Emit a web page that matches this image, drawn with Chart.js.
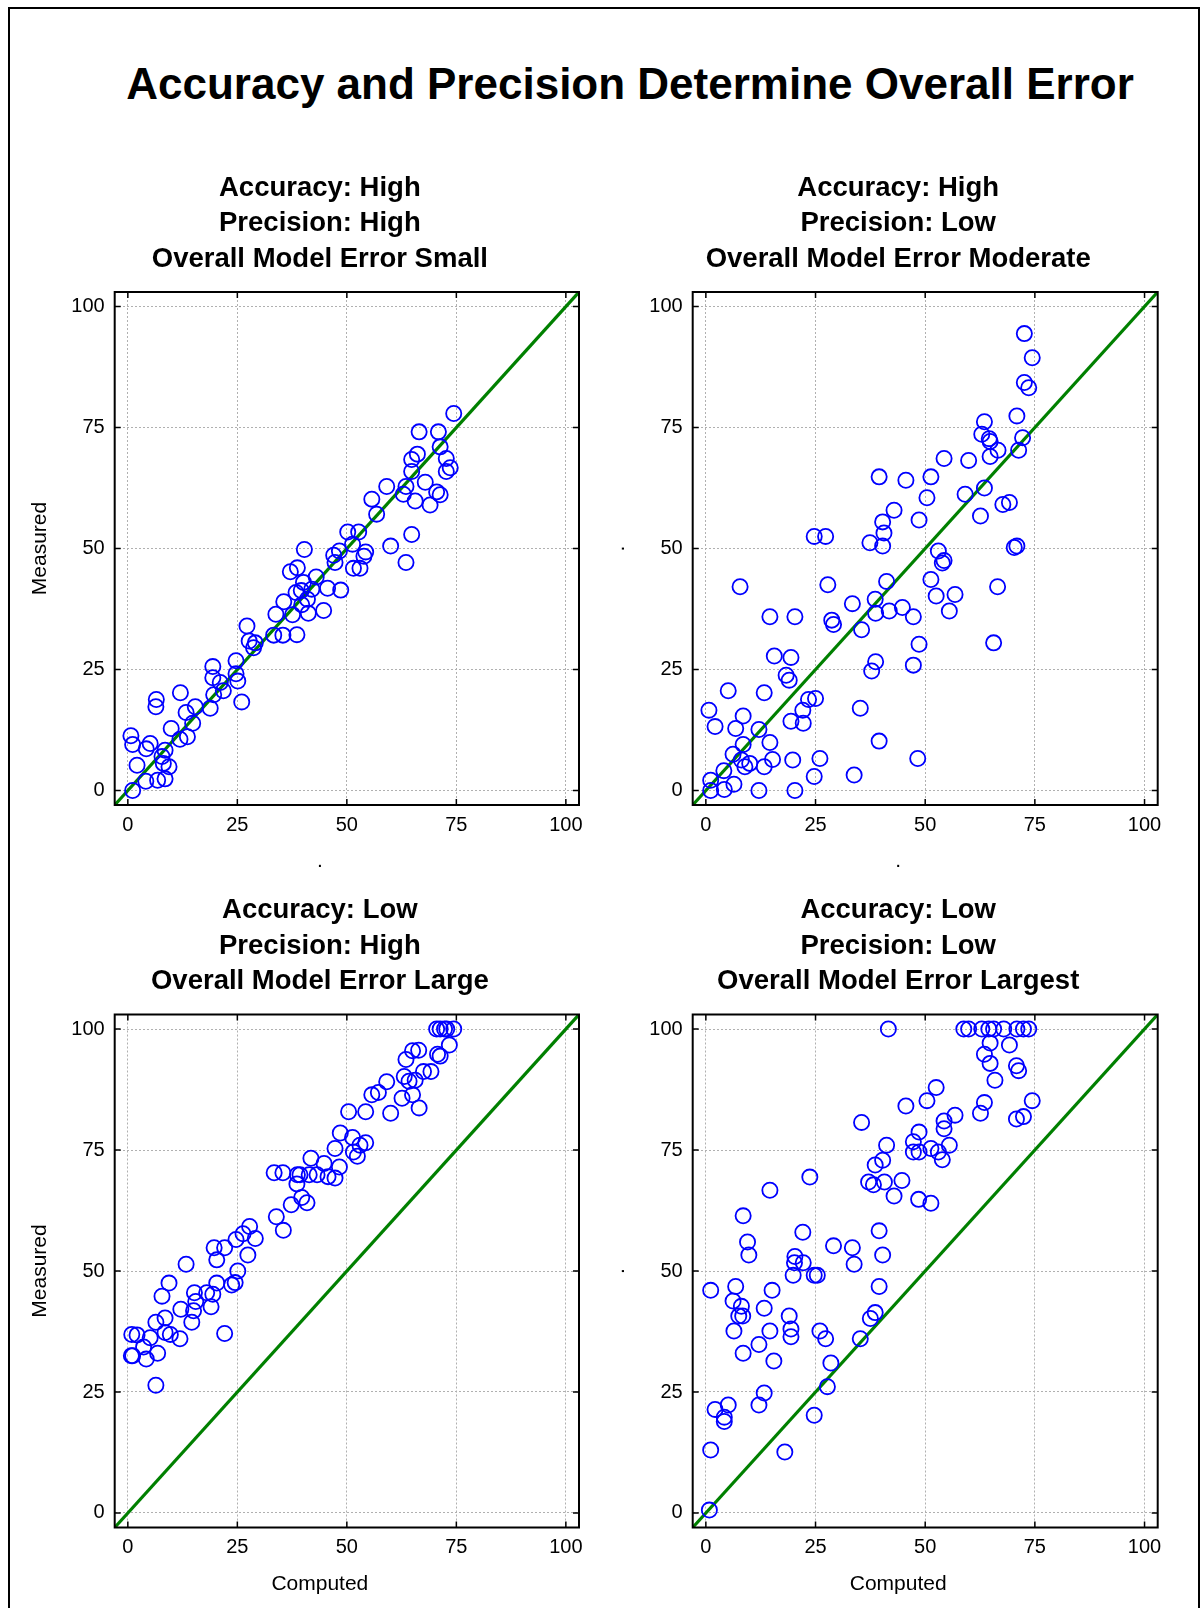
<!DOCTYPE html>
<html>
<head>
<meta charset="utf-8">
<title>Accuracy and Precision Determine Overall Error</title>
<script src="https://cdn.jsdelivr.net/npm/chart.js@4.4.1/dist/chart.umd.min.js"></script>
<style>
  html, body { margin: 0; padding: 0; background: #fff; }
  body { width: 1202px; height: 1608px; position: relative; overflow: hidden; font-family: "Liberation Sans", Arial, sans-serif; }
  #frame { position: absolute; left: 8px; top: 7px; width: 1192px; height: 1660px; border: 2px solid #000; box-sizing: border-box; }
  #main-title { position: absolute; left: 0; top: 62px; width: 1260px; text-align: center; font-size: 44px; font-weight: bold; line-height: 44px; color: #000; }
  canvas { position: absolute; }
</style>
</head>
<body>
<div id="frame"></div>
<div id="main-title">Accuracy and Precision Determine Overall Error</div>
<canvas id="c1" width="579" height="729" style="left:20px;top:150px"></canvas>
<canvas id="c2" width="580" height="729" style="left:598px;top:150px"></canvas>
<canvas id="c3" width="579" height="730" style="left:20px;top:872px"></canvas>
<canvas id="c4" width="580" height="730" style="left:598px;top:872px"></canvas>
<script>
// Axis setup (both axes share the same range and ticks)
const axisMin = -3;
const axisMax = 103;
const tickValues = [0, 25, 50, 75, 100];
const identityLine = [axisMin, axisMax];

// Panel titles
const titleSmall = ['Accuracy: High', 'Precision: High', 'Overall Model Error Small'];
const titleModerate = ['Accuracy: High', 'Precision: Low', 'Overall Model Error Moderate'];
const titleLarge = ['Accuracy: Low', 'Precision: High', 'Overall Model Error Large'];
const titleLargest = ['Accuracy: Low', 'Precision: Low', 'Overall Model Error Largest'];

// High accuracy, high precision
const smallX = [1.1, 4.1, 6.8, 8.5, 2.1, 8.1, 9.4, 8.5, 7.8, 0.7, 1.1, 5.1, 4.2, 9.9, 11.9, 13.6, 6.5, 6.4, 12.0, 13.3,
  14.8, 15.4, 18.8, 19.6, 19.4, 19.4, 21.8, 21.1, 24.7, 24.7, 25.1, 26.0, 27.2, 27.7, 28.7, 29.1, 33.3, 35.4, 38.6, 33.8,
  35.6, 37.6, 37.1, 38.7, 38.4, 39.6, 39.7, 40.3, 40.1, 41.2, 41.0, 42.0, 43.0, 44.7, 45.6, 48.6, 47.0, 47.3, 48.3, 50.2,
  51.3, 52.7, 51.5, 53.0, 54.3, 53.9, 55.7, 56.8, 59.1, 60.0, 64.8, 63.5, 62.9, 63.5, 65.6, 67.9, 69.0, 70.5, 71.3, 64.8,
  64.8, 66.1, 66.5, 70.9, 71.3, 72.7, 73.6, 72.7, 74.4];
const smallY = [0, 1.9, 2.1, 2.4, 5.2, 5.6, 4.9, 8.3, 7.0, 11.3, 9.5, 9.7, 8.6, 12.8, 10.6, 11.1, 18.8, 17.3, 20.2, 16.1,
  13.9, 17.3, 17.0, 19.8, 23.3, 25.6, 20.6, 22.3, 26.8, 24.1, 22.6, 18.3, 34.0, 30.9, 29.5, 30.5, 32.1, 32.1, 32.2, 36.4,
  39.0, 36.3, 45.2, 46.0, 40.9, 41.3, 38.4, 49.8, 43.0, 36.6, 39.5, 41.6, 44.1, 37.2, 41.8, 41.4, 48.6, 47.1, 49.5, 53.4,
  50.9, 53.4, 45.9, 45.9, 49.3, 48.4, 60.2, 57.1, 62.8, 50.5, 52.9, 47.1, 61.2, 62.8, 59.8, 63.7, 59.0, 61.7, 61.1, 65.9,
  68.4, 69.5, 74.1, 74.1, 71.0, 68.6, 66.7, 65.9, 77.9];

// High accuracy, low precision
const moderateX = [1.1, 1.1, 4.2, 4.1, 6.4, 0.7, 2.1, 5.1, 6.2, 6.8, 8.5, 8.5, 8.1, 8.9, 10.0, 12.1, 12.1, 13.3, 13.3, 14.6,
  15.2, 14.6, 7.8, 15.6, 18.3, 19.0, 19.4, 19.4, 19.8, 20.3, 20.3, 22.1, 22.2, 23.4, 25.0, 24.7, 27.3, 27.8, 24.7, 26.0,
  28.7, 29.1, 33.4, 33.8, 35.2, 35.5, 37.4, 37.8, 38.7, 38.6, 38.7, 39.5, 39.5, 40.3, 40.6, 40.3, 41.2, 41.8, 42.9, 44.8,
  45.6, 47.3, 47.3, 48.3, 48.6, 48.6, 50.4, 51.3, 51.3, 52.5, 53.0, 53.9, 54.3, 54.3, 55.5, 56.8, 59.1, 59.9, 62.6, 63.5,
  62.9, 63.5, 64.6, 64.8, 64.8, 66.6, 65.6, 66.5, 67.7, 69.2, 70.3, 70.9, 70.9, 71.3, 72.2, 72.6, 73.6, 74.4, 72.6];
const moderateY = [0, 2.1, 0.2, 4.1, 1.3, 16.6, 13.2, 20.6, 7.5, 12.8, 15.4, 9.5, 6.3, 4.9, 5.6, 12.6, 0, 20.2, 4.9, 9.9,
  6.4, 35.9, 42.1, 27.8, 23.8, 22.8, 27.5, 14.3, 6.3, 35.9, 0, 16.6, 13.9, 18.8, 19.0, 52.5, 52.5, 42.5, 2.9, 6.6,
  35.2, 34.3, 38.6, 3.2, 17.0, 33.2, 51.2, 24.7, 26.6, 39.5, 36.6, 64.8, 10.2, 55.5, 53.2, 50.5, 43.2, 37.1, 57.9, 37.8,
  64.1, 35.9, 25.9, 6.6, 55.9, 30.2, 60.5, 64.8, 43.6, 40.2, 49.5, 47.0, 47.5, 68.6, 37.1, 40.5, 61.2, 68.2, 56.7, 62.5,
  73.6, 76.2, 72.7, 72.1, 69.0, 70.3, 30.5, 42.1, 59.1, 59.5, 50.2, 50.5, 77.4, 70.3, 72.9, 84.3, 83.2, 89.4, 94.4];

// Low accuracy, high precision
const largeX = [0.8, 1.1, 0.9, 2.1, 4.2, 3.6, 5.1, 6.8, 6.4, 6.4, 7.8, 8.5, 8.5, 9.4, 9.7, 11.9, 12.1, 13.3, 14.6, 15.2,
  15.5, 15.0, 19.0, 18.0, 19.4, 20.3, 19.7, 20.3, 22.1, 22.1, 23.7, 24.5, 25.1, 24.7, 26.3, 27.8, 27.4, 29.1, 33.4, 35.4,
  33.9, 35.5, 37.3, 38.6, 38.7, 39.3, 39.7, 40.9, 41.4, 41.8, 43.2, 44.8, 45.7, 47.3, 48.3, 47.3, 48.5, 50.4, 51.3, 51.5,
  52.4, 53.0, 54.3, 54.3, 55.7, 57.2, 59.1, 60.0, 62.6, 63.1, 63.5, 65.0, 66.4, 64.2, 65.6, 65.0, 66.5, 67.5, 69.2, 70.5,
  71.3, 72.8, 74.4, 73.4, 70.7, 71.3, 72.3];
const largeY = [32.5, 32.5, 36.9, 36.8, 31.8, 34.3, 36.2, 33.0, 26.4, 39.4, 44.8, 40.3, 37.3, 47.5, 36.9, 36.0, 42.1, 51.4, 39.4, 45.5,
  43.7, 41.8, 42.6, 45.5, 45.2, 47.5, 54.8, 52.3, 54.8, 37.1, 47.1, 47.6, 50.0, 56.5, 57.7, 59.2, 53.3, 56.7, 70.3, 70.3,
  61.2, 58.4, 63.7, 68.0, 69.9, 69.9, 65.2, 64.1, 69.9, 73.3, 69.9, 72.2, 69.5, 69.2, 71.5, 75.3, 78.5, 82.9, 77.6, 74.6,
  73.7, 76.0, 76.5, 82.9, 86.4, 86.9, 89.1, 82.6, 85.7, 90.2, 93.7, 95.5, 95.6, 89.2, 89.4, 86.4, 83.7, 91.2, 91.2, 100,
  100, 100, 100, 96.7, 94.8, 94.4, 100];

// Low accuracy, low precision
const largestX = [0.8, 1.1, 1.1, 2.1, 5.1, 4.2, 4.2, 6.2, 6.8, 6.4, 7.5, 8.1, 8.4, 8.5, 8.5, 9.5, 9.8, 12.1, 12.1, 13.3,
  13.3, 14.6, 14.6, 15.1, 15.5, 18.0, 19.0, 19.4, 19.4, 19.9, 20.3, 20.2, 22.1, 22.2, 23.7, 24.7, 24.7, 25.4, 26.0, 27.3,
  28.5, 27.7, 29.1, 33.4, 33.8, 35.2, 35.5, 37.1, 38.2, 37.5, 38.6, 39.5, 40.3, 39.5, 38.6, 40.3, 40.7, 41.2, 41.6, 42.9,
  44.7, 45.6, 47.3, 47.3, 48.6, 48.6, 48.5, 50.4, 51.3, 51.3, 52.5, 53.0, 53.9, 54.3, 54.3, 55.5, 56.8, 58.8, 59.9, 62.6,
  63.5, 62.9, 64.5, 65.6, 67.9, 63.5, 64.8, 64.8, 65.9, 69.2, 70.8, 71.3, 70.8, 72.4, 74.4, 72.4, 73.6, 70.9];
const largestY = [0.6, 13.0, 46.0, 21.4, 22.3, 18.9, 19.8, 43.8, 46.8, 37.6, 40.7, 42.7, 40.7, 61.4, 33.0, 56.0, 53.3, 34.8, 22.3, 42.3,
  24.8, 37.6, 66.7, 46.0, 31.4, 12.6, 40.7, 38.0, 36.4, 49.1, 53.0, 51.7, 58.0, 51.7, 69.4, 20.2, 49.1, 49.1, 37.6, 36.0,
  31.0, 26.1, 55.2, 54.8, 51.4, 36.0, 80.7, 68.4, 67.8, 40.2, 41.4, 58.3, 53.3, 46.8, 71.9, 72.9, 68.4, 76.0, 100, 65.5,
  68.7, 84.1, 74.6, 76.7, 78.7, 74.6, 64.8, 85.2, 64.0, 75.3, 87.9, 74.6, 73.0, 79.4, 81.0, 76.0, 82.2, 100, 100, 82.6,
  84.8, 100, 100, 100, 100, 94.8, 92.9, 97.1, 89.4, 96.7, 92.4, 91.4, 81.4, 81.9, 85.2, 100, 100, 100];

Chart.defaults.font.family = "'Liberation Sans', Arial, sans-serif";
Chart.defaults.color = '#000';

// Box round the plot area with short inward ticks on all four sides
const framePlugin = {
  id: 'frame',
  afterDraw(chart) {
    const ctx = chart.ctx;
    const a = chart.chartArea;
    const xs = chart.scales.x, ys = chart.scales.y;
    ctx.save();
    ctx.strokeStyle = '#000';
    ctx.lineWidth = 2;
    ctx.strokeRect(a.left, a.top, a.right - a.left, a.bottom - a.top);
    ctx.beginPath();
    tickValues.forEach(function(v) {
      var px = xs.getPixelForValue(v);
      var py = ys.getPixelForValue(v);
      ctx.moveTo(px, a.bottom); ctx.lineTo(px, a.bottom - 6);
      ctx.moveTo(px, a.top); ctx.lineTo(px, a.top + 6);
      ctx.moveTo(a.left, py); ctx.lineTo(a.left + 6, py);
      ctx.moveTo(a.right, py); ctx.lineTo(a.right - 6, py);
    });
    ctx.lineWidth = 1.5;
    ctx.stroke();
    ctx.restore();
  }
};

function setTicks(scale) {
  scale.ticks = tickValues.map(function(v) { return { value: v }; });
}

function makePanel(p) {
  var points = p.xs.map(function(v, i) { return { x: v, y: p.ys[i] }; });
  var line = identityLine.map(function(v) { return { x: v, y: v }; });

  new Chart(document.getElementById(p.id), {
    type: 'scatter',
    data: {
      datasets: [{
        data: points,
        pointStyle: 'circle',
        pointRadius: 7.6,
        borderWidth: 1.8,
        borderColor: '#0000ff',
        backgroundColor: 'rgba(0,0,0,0)'
      }, {
        data: line,
        showLine: true,
        pointRadius: 0,
        borderColor: '#008000',
        borderWidth: 3.2
      }]
    },
    options: {
      responsive: false,
      animation: false,
      events: [],
      layout: { padding: { left: p.padLeft, right: p.padRight, top: 0, bottom: 0 } },
      plugins: {
        legend: { display: false },
        tooltip: { enabled: false },
        title: {
          display: true,
          text: p.title,
          font: { size: 27.5, weight: 'bold', lineHeight: 35.5 / 27.5 },
          padding: { top: p.titleTop, bottom: 15.25 }
        },
        subtitle: {
          display: true,
          position: 'bottom',
          text: p.xTitle,
          font: { size: 21, lineHeight: 1.2 },
          padding: { top: 8.8, bottom: p.subBottom }
        }
      },
      scales: {
        x: {
          type: 'linear',
          min: axisMin,
          max: axisMax,
          afterBuildTicks: setTicks,
          afterFit: function(s) { s.height = 35; s.paddingLeft = 0; s.paddingRight = 0; },
          ticks: { padding: 8, font: { size: 20 }, maxRotation: 0, autoSkip: false },
          grid: { color: '#b0b0b0', lineWidth: 1, drawTicks: false },
          border: { display: false, dash: [2, 2] }
        },
        y: {
          type: 'linear',
          min: axisMin,
          max: axisMax,
          afterBuildTicks: setTicks,
          afterFit: function(s) { s.width = 54; s.paddingTop = 0; s.paddingBottom = 0; },
          ticks: { padding: 10, font: { size: 20 }, autoSkip: false },
          grid: { color: '#b0b0b0', lineWidth: 1, drawTicks: false },
          border: { display: false, dash: [2, 2] },
          title: {
            display: true,
            text: p.yTitle,
            font: { size: 21, lineHeight: 1.2 },
            padding: { top: -33.3, bottom: 0 }
          }
        }
      }
    },
    plugins: [framePlugin]
  });
}

[
  { id: 'c1', xs: smallX, ys: smallY, title: titleSmall, xTitle: '.', yTitle: 'Measured', padLeft: 40.7, padRight: 20, titleTop: 20.25, subBottom: 5 },
  { id: 'c2', xs: moderateX, ys: moderateY, title: titleModerate, xTitle: '.', yTitle: '.', padLeft: 40.7, padRight: 20.3, titleTop: 20.25, subBottom: 5 },
  { id: 'c3', xs: largeX, ys: largeY, title: titleLarge, xTitle: 'Computed', yTitle: 'Measured', padLeft: 40.7, padRight: 20, titleTop: 20.75, subBottom: 5.5 },
  { id: 'c4', xs: largestX, ys: largestY, title: titleLargest, xTitle: 'Computed', yTitle: '.', padLeft: 40.7, padRight: 20.3, titleTop: 20.75, subBottom: 5.5 }
].forEach(makePanel);
</script>
</body>
</html>
